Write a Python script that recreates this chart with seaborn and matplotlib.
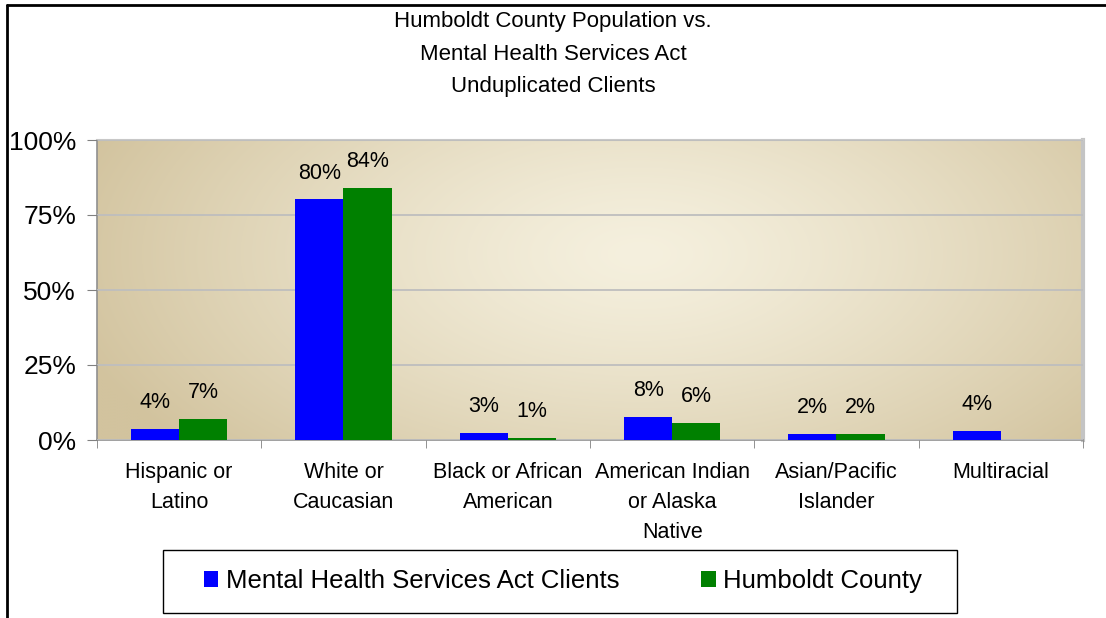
import numpy as np
import pandas as pd
import matplotlib
matplotlib.use("Agg")
import matplotlib.pyplot as plt
import seaborn as sns
from matplotlib.patches import Patch, Rectangle
from matplotlib.lines import Line2D
from matplotlib.ticker import FixedLocator

categories = ["Hispanic or\nLatino", "White or\nCaucasian", "Black or African\nAmerican",
              "American Indian\nor Alaska\nNative", "Asian/Pacific\nIslander", "Multiracial"]
series_names = ["Mental Health Services Act Clients", "Humboldt County"]
mhsa_values = [3.7, 80.2, 2.4, 7.7, 2.0, 3.1]
county_values = [7.0, 84.1, 0.6, 5.8, 1.9, 0.0]
mhsa_labels = ["4%", "80%", "3%", "8%", "2%", "4%"]
county_labels = ["7%", "84%", "1%", "6%", "2%", ""]
y_ticks = [0, 25, 50, 75, 100]
y_ticklabels = ["0%", "25%", "50%", "75%", "100%"]
title = "Humboldt County Population vs.\nMental Health Services Act\nUnduplicated Clients"
colors = ["#0000FF", "#008000"]

df = pd.DataFrame({
    "category": categories * 2,
    "series": [series_names[0]] * len(categories) + [series_names[1]] * len(categories),
    "value": mhsa_values + county_values,
})

sns.set_style("white")
plt.rcParams["font.family"] = ["Liberation Sans", "DejaVu Sans"]
plt.rcParams["text.color"] = "black"
plt.rcParams["xtick.labelcolor"] = "black"
plt.rcParams["ytick.labelcolor"] = "black"

W, H = 1106, 618
fig = plt.figure(figsize=(W / 100, H / 100), dpi=100)
ax = fig.add_axes([97 / W, 1 - 440 / H, (1083 - 97) / W, 300 / H])

# gradient background
ny, nx = 200, 400
yy, xx = np.mgrid[0:1:ny * 1j, 0:1:nx * 1j]
r = np.sqrt(((xx - 0.55) / 0.6) ** 2 + ((yy - 0.62) / 1.0) ** 2)
r = np.clip(r, 0, 1) ** 1.3
c_in = np.array([245, 240, 222]) / 255
c_out = np.array([210, 195, 158]) / 255
img = c_in[None, None, :] * (1 - r[..., None]) + c_out[None, None, :] * r[..., None]
ax.imshow(img, extent=[0, 1, 0, 1], transform=ax.transAxes, aspect="auto",
          origin="lower", zorder=0, interpolation="bilinear")

sns.barplot(data=df, x="category", y="value", hue="series", order=categories,
            hue_order=series_names, palette=colors, width=0.585, saturation=1,
            edgecolor="none", linewidth=0, ax=ax, zorder=3, legend=False)

ax.set_xlim(-0.5, len(categories) - 0.5)
ax.set_ylim(0, 100)
ax.set_yticks(y_ticks)
ax.set_yticklabels(y_ticklabels, fontsize=19)
ax.set_xticks(range(len(categories)))
ax.set_xticklabels(categories, fontsize=15.5, linespacing=1.55, va="top")
ax.xaxis.set_minor_locator(FixedLocator(np.arange(-0.5, len(categories), 1.0)))
ax.tick_params(axis="x", which="major", length=0, pad=16)
ax.tick_params(axis="x", which="minor", length=6, color="#808080", direction="out", bottom=True)
ax.tick_params(axis="y", length=7, color="#808080", direction="out", left=True, pad=8)
ax.set_xlabel("")
ax.set_ylabel("")
ax.grid(axis="y", color="#BEBEBE", linewidth=1.3, zorder=1)
ax.set_axisbelow(False)
for gl in ax.get_ygridlines():
    gl.set_zorder(1)

for side in ["left", "bottom"]:
    ax.spines[side].set_color("#909090")
    ax.spines[side].set_linewidth(1.2)
ax.spines["top"].set_color("#C8C8C8")
ax.spines["top"].set_linewidth(1.5)
ax.spines["right"].set_color("#C4C4C4")
ax.spines["right"].set_linewidth(3)

# data labels
for cont, labels in zip(ax.containers, [mhsa_labels, county_labels]):
    for bar, lab in zip(cont, labels):
        if not lab:
            continue
        ax.annotate(lab, (bar.get_x() + bar.get_width() / 2, bar.get_height()),
                    xytext=(0, 15), textcoords="offset points", ha="center",
                    va="baseline", fontsize=15.5, color="black", zorder=5)

fig.text(0.5, 1 - 54 / H, title, ha="center", va="center", fontsize=16,
         linespacing=1.7, color="black")

# legend (frame drawn separately to match the wide padded box)
handles = [Patch(facecolor=c, edgecolor="none") for c in colors]
leg = fig.legend(handles, series_names, loc="center", bbox_to_anchor=(563 / W, 1 - 581 / H),
                 ncol=2, frameon=False, fontsize=18.5, handlelength=0.55, handleheight=0.55,
                 handletextpad=0.3, columnspacing=3.2, borderpad=0.0, borderaxespad=0)
fig.add_artist(Rectangle((163 / W, 1 - 613 / H), (957 - 163) / W, 63 / H,
                         transform=fig.transFigure, facecolor="white",
                         edgecolor="black", linewidth=1.0, zorder=0))

# figure border (top and left)
fig.add_artist(Line2D([7 / W, 1.0], [1 - 5 / H, 1 - 5 / H], transform=fig.transFigure,
                      color="black", linewidth=2))
fig.add_artist(Line2D([7 / W, 7 / W], [0, 1 - 5 / H], transform=fig.transFigure,
                      color="black", linewidth=2))

fig.savefig("out.png", dpi=100)
